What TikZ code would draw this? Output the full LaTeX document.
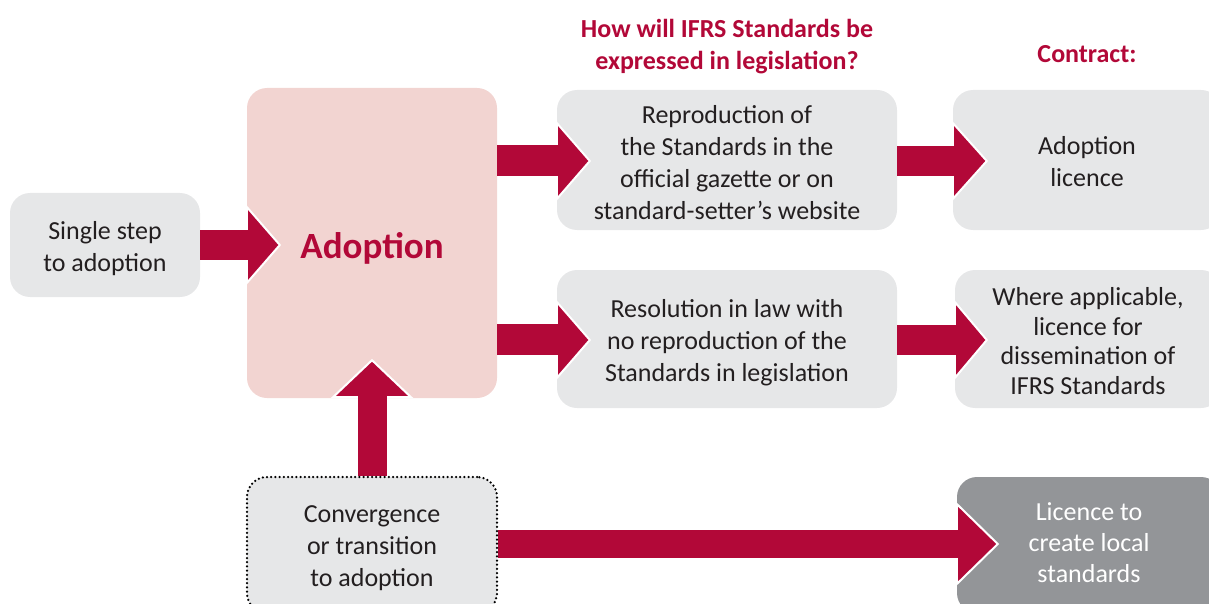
\documentclass[tikz,border=0pt]{standalone}
\usepackage{fontspec}
\setmainfont{Carlito}
\usetikzlibrary{calc}
\definecolor{crimson}{HTML}{B20838}
\definecolor{pinkfill}{HTML}{F2D4D1}
\definecolor{boxgray}{HTML}{E6E7E8}
\definecolor{darkbox}{HTML}{939598}
\definecolor{textgray}{HTML}{231F20}
\pgfdeclarelayer{front}
\pgfsetlayers{main,front}
\newcommand{\harrow}[5]{% #1 start, #2 tip, #3 shaft half width, #4 head half width, #5 head length
  \filldraw[crimson, draw=white, line width=2pt, line join=miter] ($(#2)+(-#5,-#4)$) -- (#2) -- ($(#2)+(-#5,#4)$) -- cycle;
  \fill[crimson] ($(#1)+(0,-#3)$) rectangle ($(#2)+(-#5+2,#3)$);
}
\begin{document}
\begin{tikzpicture}[x=1pt,y=-1pt,
  box/.style={rounded corners=20pt, fill=boxgray, inner sep=0pt},
  txt/.style={text=textgray, align=center, font=\fontsize{26}{32}\selectfont, inner sep=0pt},
  title/.style={text=crimson, align=center, font=\fontsize{26}{32}\selectfont\bfseries, inner sep=0pt},
  dotborder/.style={draw=black, line width=2.5pt, dash pattern=on 0pt off 4.2pt, line cap=round}]
\useasboundingbox (0,0) rectangle (1209,604);
\clip (0,0) rectangle (1209,604);

% titles
\node[title] (t1) at (727,47) {How will IFRS Standards be\\expressed in legislation?};
\node[title] (t2) at (1087,54) {Contract:};

% boxes
\node[box, minimum width=190pt, minimum height=104pt,
  label={[txt, yshift=-4pt]center:Single step\\to adoption}] (single) at (105,245) {};
\node[box, fill=pinkfill, minimum width=250pt, minimum height=310pt,
  label={[txt, text=crimson, yshift=-5pt, font=\fontsize{37}{44}\selectfont\bfseries]center:Adoption}] (adopt) at (372,243) {};
\node[box, minimum width=340pt, minimum height=140pt,
  label={[txt, yshift=-3pt]center:Reproduction of\\the Standards in the\\official gazette or on\\standard-setter’s website}] (top) at (727,160) {};
\node[box, minimum width=268pt, minimum height=140pt,
  label={[txt, yshift=-2pt]center:Adoption\\licence}] (topr) at (1087,160) {};
\node[box, minimum width=340pt, minimum height=138pt,
  label={[txt, yshift=-4pt]center:Resolution in law with\\no reproduction of the\\Standards in legislation}] (mid) at (727,339) {};
\node[box, minimum width=266pt, minimum height=138pt,
  label={[txt, yshift=-2pt, font=\fontsize{26}{29.5}\selectfont]center:Where applicable,\\licence for\\dissemination of\\IFRS Standards}] (midr) at (1088,339) {};
\node[box, fill=darkbox, minimum width=264pt, minimum height=136pt,
  label={[txt, text=white, yshift=2pt, font=\fontsize{26}{31}\selectfont]center:Licence to\\create local\\standards}] (licr) at (1089,545) {};
\begin{pgfonlayer}{front}
\node[box, dotborder, minimum width=250pt, minimum height=136pt,
  label={[txt, yshift=-3pt]center:Convergence\\or transition\\to adoption}] (conv) at (372,545) {};
\end{pgfonlayer}

% connectors
\coordinate (s1) at (single.east);
\coordinate (e1) at ($(single.east -| adopt.west)+(33,0)$);
\harrow{s1}{e1}{15}{38}{33}
\coordinate (s2) at (adopt.east |- top.west);
\coordinate (e2) at ($(top.west)+(33,1)$);
\harrow{s2}{e2}{15}{38}{33}
\coordinate (s3) at (adopt.east |- mid.west);
\coordinate (e3) at ($(mid.west)+(33,1)$);
\harrow{s3}{e3}{15}{38}{33}
\coordinate (s4) at ($(top.east)+(0,1)$);
\coordinate (e4) at ($(topr.west)+(34,1)$);
\harrow{s4}{e4}{15}{38}{34}
\coordinate (s5) at ($(mid.east)+(0,1)$);
\coordinate (e5) at ($(midr.west)+(32,1)$);
\harrow{s5}{e5}{15}{38}{32}
\coordinate (s6) at ($(conv.east)+(0,-1)$);
\coordinate (e6) at ($(licr.west)+(41,-1)$);
\harrow{s6}{e6}{14}{40}{41}
% vertical
\coordinate (s7) at (conv.north);
\coordinate (e7) at ($(adopt.south)+(0,-38)$);
\filldraw[crimson, draw=white, line width=2pt] ($(e7)+(-39,37)$) -- (e7) -- ($(e7)+(39,37)$) -- cycle;
\fill[crimson] ($(s7)+(-14.5,0)$) rectangle ($(e7)+(14.5,35)$);
\end{tikzpicture}
\end{document}
